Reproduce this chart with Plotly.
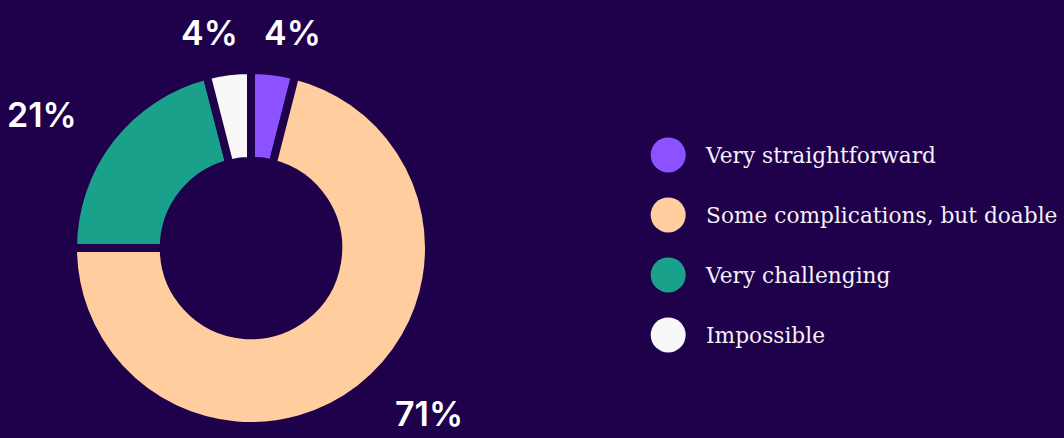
import math
import plotly.graph_objects as go

# Survey answers, clockwise from 12 o'clock
categories = ["Very straightforward", "Some complications, but doable", "Very challenging", "Impossible"]
shares = [4, 71, 21, 4]
colors = ["#8c52ff", "#ffcd9e", "#1aa18c", "#f8f8f8"]

BG = "#1e004b"
W, H = 1064, 438

# Donut geometry (pixels): centre and outer radius of the drawn ring
CX, CY, R_OUT = 251, 248, 178
GAP = 8  # slice separator width

fig = go.Figure()

fig.add_trace(go.Pie(
    labels=categories,
    values=shares,
    sort=False,
    direction="clockwise",
    rotation=0,
    hole=0.49,
    marker=dict(colors=colors, line=dict(color=BG, width=GAP)),
    textinfo="none",
    showlegend=False,
    domain=dict(x=[(CX - R_OUT) / W, (CX + R_OUT) / W],
                y=[1 - (CY + R_OUT) / H, 1 - (CY - R_OUT) / H]),
    hoverinfo="label+percent",
))

# Percentage labels on a circle around the ring, aligned away from the centre
label_r = (R_OUT - GAP / 2) * 1.25
total = sum(shares)
start = 0
for share in shares:
    theta = 2 * math.pi * (start + share / 2) / total
    start += share
    dy = -label_r * math.cos(theta)
    py = min(max(CY + dy, 30), H - 25)
    dy = py - CY
    s = math.sin(theta)
    if abs(s) < 0.3:
        # labels near the top hug the vertical axis on their own side
        dx = label_r * abs(s) * 0.4
    else:
        dx = math.sqrt(max(label_r ** 2 - dy ** 2, 0.0))
    px = CX + dx if s > 0 else CX - dx
    anchor = "left" if s > 0 else "right"
    fig.add_annotation(
        x=px / W, y=1 - py / H, xref="paper", yref="paper",
        text=f"{share}%", showarrow=False,
        xanchor=anchor, yanchor="middle",
        font=dict(family="Inter", size=34, color="white", weight=600),
    )

# Legend drawn as circle markers with labels on a hidden axis
rows = list(range(len(categories)))
fig.add_trace(go.Scatter(
    x=[0.07] * len(categories), y=rows,
    mode="markers",
    marker=dict(size=35, color=colors, symbol="circle"),
    showlegend=False, hoverinfo="skip",
    xaxis="x", yaxis="y",
))
fig.add_trace(go.Scatter(
    x=[0.159] * len(categories), y=[r + 0.045 for r in rows],
    mode="text",
    text=categories,
    textposition="middle right",
    textfont=dict(family="DejaVu Serif", size=21.7, color="#f4f0f6"),
    showlegend=False, hoverinfo="skip",
    xaxis="x", yaxis="y",
))

fig.update_layout(
    width=W, height=H,
    margin=dict(l=0, r=0, t=0, b=0),
    paper_bgcolor=BG, plot_bgcolor=BG,
    xaxis=dict(domain=[0.6, 1.0], range=[0, 1], visible=False, fixedrange=True),
    yaxis=dict(domain=[0, 1], range=[4.717, -2.583], visible=False, fixedrange=True),
)

fig.write_html("out.html")
